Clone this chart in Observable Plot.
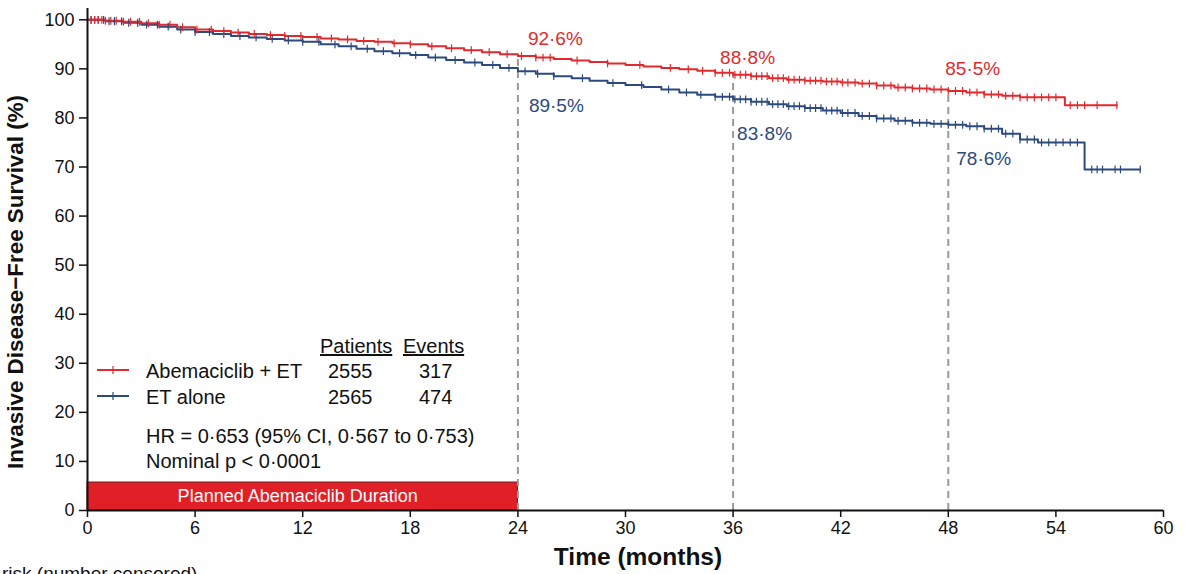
<!DOCTYPE html>
<html><head><meta charset="utf-8">
<script src="https://cdn.jsdelivr.net/npm/d3@7"></script>
<script src="https://cdn.jsdelivr.net/npm/@observablehq/plot@0.6"></script>
<style>
body{margin:0;background:#fff;font-family:"Liberation Sans",Arial,sans-serif}
</style></head><body><div id="chart"></div>
<script>
// ---------- data ----------
const redTime = [0,1,2,3,4,5,6,7,8,9,10,11,12,13,14,15,16,17,18,19,20,21,22,23,24,25,26,27,28,29,30,31,32,33,34,35,36,37,38,39,40,41,42,43,44,45,46,47,48,49,50,51,52,54.5,57.4];
const redSurv = [100,99.8,99.6,99.3,99.0,98.5,98.0,97.7,97.4,97.1,96.9,96.7,96.5,96.2,96.0,95.7,95.5,95.2,95.0,94.6,94.2,93.8,93.4,93.0,92.6,92.3,92.0,91.7,91.4,91.1,90.8,90.5,90.2,89.9,89.6,89.2,88.8,88.5,88.1,87.8,87.6,87.4,87.2,87.0,86.6,86.2,86.0,85.8,85.5,85.2,84.8,84.5,84.2,82.6,82.6];
const blueTime = [0,1,2,3,4,5,6,7,8,9,10,11,12,13,14,15,16,17,18,19,20,21,22,23,24,25,26,27,28,29,30,31,32,33,34,35,36,37,38,39,40,41,42,43,44,45,46,47,48,49,50,51,52,53,55.6,58.7];
const blueSurv = [100,99.7,99.4,99.0,98.6,98.0,97.5,97.1,96.7,96.4,96.1,95.8,95.5,95.0,94.6,94.1,93.6,93.2,92.8,92.3,91.8,91.3,90.8,90.2,89.5,89.0,88.5,88.1,87.6,87.1,86.7,86.3,85.8,85.2,84.7,84.3,83.8,83.3,82.8,82.4,82.0,81.5,81.0,80.4,79.9,79.4,79.0,78.8,78.6,78.3,77.8,76.8,75.6,75.0,69.5,69.5];
const redCensor = [0.2,0.4,0.6,0.8,1.0,1.3,1.6,2.0,2.4,2.9,3.4,4.0,4.6,5.3,6.1,6.9,7.6,8.4,9.3,10.2,11.0,11.9,12.8,13.6,14.5,15.4,16.2,17.1,18.0,19.2,20.3,21.4,22.4,23.4,24.2,25.0,25.4,25.8,27.3,29.0,30.8,32.5,33.5,34.3,35.0,35.4,35.8,36.1,36.4,36.7,37.0,37.3,37.6,37.9,38.2,38.5,38.8,39.1,39.4,39.7,40.0,40.3,40.6,40.9,41.2,41.5,41.8,42.1,42.4,42.8,43.2,43.6,44.0,44.4,44.8,45.2,45.6,46.0,46.4,46.8,47.2,47.6,48.0,48.4,48.8,49.2,49.6,50.0,50.4,50.8,51.2,51.6,52.0,52.4,52.8,53.2,53.6,54.0,54.8,55.2,55.6,56.3,57.4];
const blueCensor = [0.2,0.4,0.6,0.9,1.2,1.5,1.9,2.3,2.8,3.3,3.9,4.5,5.2,6.0,6.8,7.6,8.5,9.4,10.3,11.2,12.0,12.9,13.8,14.7,15.6,16.5,17.4,18.3,19.4,20.5,21.6,22.6,23.5,24.4,25.1,26.0,27.6,29.3,30.9,32.4,33.4,34.2,35.0,35.4,35.8,36.1,36.4,36.7,37.0,37.3,37.6,37.9,38.2,38.5,38.8,39.1,39.4,39.7,40.0,40.3,40.6,40.9,41.2,41.5,41.8,42.1,42.4,42.8,43.2,43.6,44.0,44.4,44.8,45.2,45.6,46.0,46.4,46.8,47.2,47.6,48.0,48.4,48.8,49.2,49.6,50.0,50.4,50.8,51.2,51.6,52.0,52.4,52.8,53.2,53.6,54.0,54.4,54.8,55.2,56.0,56.3,56.6,57.3,57.6,58.7];
const landmarkMonths = [24, 36, 48];
const redLandmark = [92.6, 88.8, 85.5];
const blueLandmark = [89.5, 83.8, 78.6];
const xTicks = [0,6,12,18,24,30,36,42,48,54,60];
const yTicks = [0,10,20,30,40,50,60,70,80,90,100];
const plannedDuration = [0, 24];
const groups = ["Abemaciclib + ET", "ET alone"];
const patients = [2555, 2565];
const events = [317, 474];

// ---------- chart ----------
const RED = "#e02a2e", BLUE = "#2c4a7e";
const toRows = (times, surv) => times.map((t, i) => ({t, s: surv[i]}));
const survAt = (times, surv, t) => surv[Math.max(0, d3.bisectRight(times, t) - 1)];
const vtick = {draw(ctx, size) { const h = Math.sqrt(size); ctx.moveTo(0, -h); ctx.lineTo(0, h); }};
const redRows = toRows(redTime, redSurv), blueRows = toRows(blueTime, blueSurv);
const redC = redCensor.map(t => ({t, s: survAt(redTime, redSurv, t)}));
const blueC = blueCensor.map(t => ({t, s: survAt(blueTime, blueSurv, t)}));

const redOff = [[10, -17], [-13, -17], [-3, -22]];
const blueOff = [[11, 35], [4, 35], [8, 34]];
const fmt = v => v.toFixed(1).replace(".", "\u00b7") + "%";
const labelMarks = [];
landmarkMonths.forEach((m, i) => {
  labelMarks.push(Plot.text([{m, v: redLandmark[i]}], {x: "m", y: "v", text: d => fmt(d.v), textAnchor: "start", dx: redOff[i][0], dy: redOff[i][1], fill: RED, fontSize: 19}));
  labelMarks.push(Plot.text([{m, v: blueLandmark[i]}], {x: "m", y: "v", text: d => fmt(d.v), textAnchor: "start", dx: blueOff[i][0], dy: blueOff[i][1], fill: BLUE, fontSize: 19}));
});

const chart = Plot.plot({
  width: 1189, height: 574,
  marginLeft: 87, marginRight: 26, marginTop: 8, marginBottom: 64,
  style: {fontFamily: '"Liberation Sans", Arial, sans-serif', background: "#fff", color: "#111"},
  x: {domain: [0, 60]},
  y: {domain: [0, 102.3]},
  marks: [
    Plot.rect([{a: plannedDuration[0], b: plannedDuration[1]}], {x1: "a", x2: "b", y1: 0, y2: 5.7, fill: "#e01f26", stroke: "#6a1a1a", strokeWidth: 1}),
    Plot.text([{m: (plannedDuration[0] + plannedDuration[1]) / 2}], {x: "m", y: 2.85, text: ["Planned Abemaciclib Duration"], fill: "#fff", fontSize: 18, dx: -5}),
    Plot.ruleX(landmarkMonths, {x: d => d, y1: 0, y2: (d, i) => redLandmark[i], stroke: "#999", strokeWidth: 2, strokeDasharray: "7,5"}),
    Plot.line(blueRows, {x: "t", y: "s", curve: "step-after", stroke: BLUE, strokeWidth: 2}),
    Plot.line(redRows, {x: "t", y: "s", curve: "step-after", stroke: RED, strokeWidth: 2}),
    Plot.dot(blueC, {x: "t", y: "s", symbol: vtick, r: 2.2, stroke: BLUE, strokeWidth: 1.2, fill: "none"}),
    Plot.dot(redC, {x: "t", y: "s", symbol: vtick, r: 2.2, stroke: RED, strokeWidth: 1.2, fill: "none"}),
    ...labelMarks,
    Plot.ruleY([0], {x1: 0, x2: 60, stroke: "#111", strokeWidth: 2}),
    Plot.ruleX([0], {y1: 0, y2: 102.3, stroke: "#111", strokeWidth: 2}),
    Plot.axisX({ticks: xTicks, tickSize: 7, tickPadding: 4, fontSize: 18, label: null, tickFormat: d => d, stroke: "#111", strokeWidth: 1.5}),
    Plot.axisY({ticks: yTicks, tickSize: 8, tickPadding: 5, fontSize: 18, label: null, tickFormat: d => d, stroke: "#111", strokeWidth: 1.5})
  ]
});
document.getElementById("chart").appendChild(chart);

// ---------- titles, legend, annotations ----------
const svg = d3.select(chart);
const ff = '"Liberation Sans", Arial, sans-serif';
svg.append("text").attr("transform", "translate(23,282) rotate(-90)").attr("text-anchor", "middle")
  .attr("font-family", ff).attr("font-size", 22.4).attr("font-weight", "bold").attr("fill", "#111")
  .text("Invasive Disease\u2212Free Survival (%)");
svg.append("text").attr("x", 638).attr("y", 565).attr("text-anchor", "middle")
  .attr("font-family", ff).attr("font-size", 24.5).attr("font-weight", "bold").attr("fill", "#111")
  .text("Time (months)");
svg.append("text").attr("x", 2).attr("y", 580).attr("text-anchor", "start").attr("font-family", ff).attr("font-size", 19).attr("fill", "#111")
  .text("risk (number censored)");

const lg = svg.append("g").attr("font-family", ff).attr("font-size", 20).attr("fill", "#111").attr("text-anchor", "start");
lg.append("text").attr("x", 320).attr("y", 353).attr("text-decoration", "underline").text("Patients");
lg.append("text").attr("x", 403).attr("y", 353).attr("text-decoration", "underline").text("Events");
const colors = [RED, BLUE];
groups.forEach((g, i) => {
  const y = 371 + i * 26;
  lg.append("line").attr("x1", 97).attr("x2", 129).attr("y1", y - 1).attr("y2", y - 1).attr("stroke", colors[i]).attr("stroke-width", 2);
  lg.append("line").attr("x1", 113).attr("x2", 113).attr("y1", y - 5).attr("y2", y + 3).attr("stroke", colors[i]).attr("stroke-width", 1.2);
  lg.append("text").attr("x", 146).attr("y", y + 7).text(g);
  lg.append("text").attr("x", 328).attr("y", y + 7).text(patients[i]);
  lg.append("text").attr("x", 419).attr("y", y + 7).text(events[i]);
});
lg.append("text").attr("x", 146).attr("y", 443).text("HR = 0\u00b7653 (95% CI, 0\u00b7567 to 0\u00b7753)");
lg.append("text").attr("x", 146).attr("y", 468).text("Nominal p < 0\u00b70001");
</script></body></html>
